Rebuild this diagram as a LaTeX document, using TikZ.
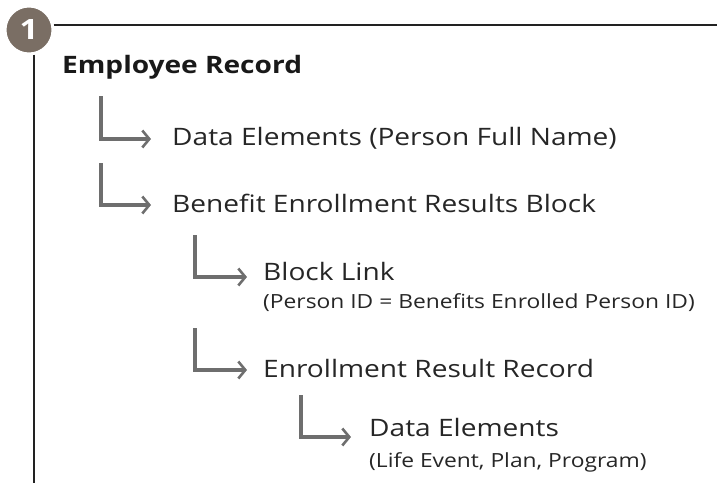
\documentclass[tikz,border=0pt]{standalone}
\usepackage{fontspec}
\setmainfont{Open Sans}[FakeStretch=1.17]
\usetikzlibrary{arrows.meta}
\definecolor{badge}{HTML}{7A6E64}
\definecolor{elbowgray}{HTML}{6E6E6E}
\definecolor{frameline}{HTML}{222222}
\tikzset{
  elbow/.style={draw=elbowgray, line width=3.6pt, -{Straight Barb[length=7pt,width=17pt,line width=2.6pt]}},
  frame/.style={draw=frameline, line width=2.6pt},
  maintext/.style={anchor=base west, inner sep=0pt, font=\fontsize{24}{28}\selectfont, text=black!85},
  subtext/.style={anchor=base west, inner sep=0pt, font=\fontsize{19.5}{22}\selectfont, text=black!85},
  headtext/.style={anchor=base west, inner sep=0pt, font=\fontsize{24}{28}\selectfont\bfseries, text=black!90},
}
\begin{document}
\begin{tikzpicture}[x=1pt,y=-1pt]
\useasboundingbox (0,0) rectangle (717,483);
% frame
\coordinate (topend) at (717,25);
\coordinate (leftend) at (34,483);
\node[circle, fill=badge, draw=white, line width=2pt, minimum size=47pt, inner sep=0pt, font=\fontsize{28}{30}\selectfont\bfseries, text=white] (badge) at (29,30) {1};
\draw[frame] (badge.east |- topend) -- (topend);
\draw[frame] (leftend |- badge.south) -- (leftend);
% texts
\node[headtext] (emp) at (62,73) {Employee Record};
\node[maintext] (de1) at (172,145) {Data Elements (Person Full Name)};
\node[maintext] (ber) at (172,212) {Benefit Enrollment Results Block};
\node[maintext] (bl) at (263,280) {Block Link};
\node[subtext] (blsub) at (263,308) {(Person ID = Benefits Enrolled Person ID)};
\node[maintext] (err) at (263,377) {Enrollment Result Record};
\node[maintext] (de2) at (369,436) {Data Elements};
\node[subtext] (de2sub) at (369,467) {(Life Event, Plan, Program)};
% elbows
\coordinate (a1s) at (101,96);  \coordinate (a1e) at (151,139);
\coordinate (a2s) at (101,163); \coordinate (a2e) at (151,205);
\coordinate (a3s) at (195,235); \coordinate (a3e) at (247,277);
\coordinate (a4s) at (195,328); \coordinate (a4e) at (247,370);
\coordinate (a5s) at (301,395); \coordinate (a5e) at (351,437);
\draw[elbow] (a1s) |- (a1e);
\draw[elbow] (a2s) |- (a2e);
\draw[elbow] (a3s) |- (a3e);
\draw[elbow] (a4s) |- (a4e);
\draw[elbow] (a5s) |- (a5e);
\end{tikzpicture}
\end{document}
